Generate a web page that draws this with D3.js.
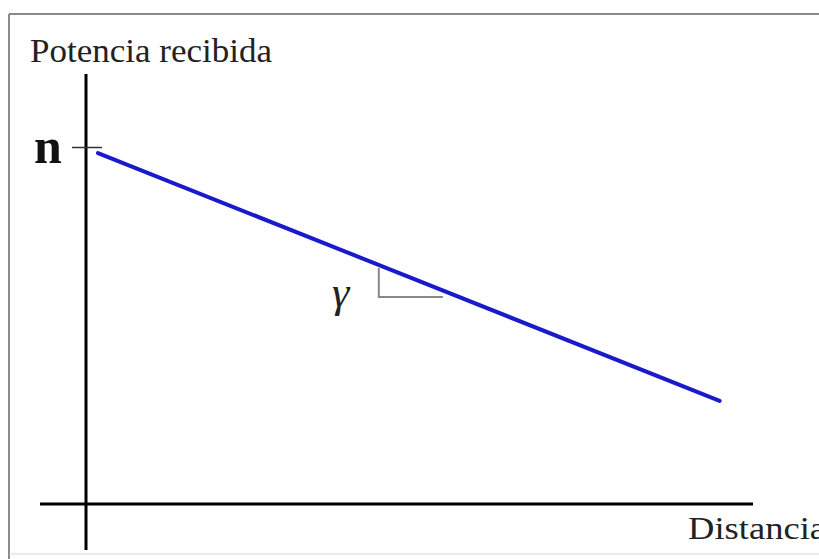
<!DOCTYPE html>
<html><head><meta charset="utf-8">
<script src="https://cdn.jsdelivr.net/npm/d3@7"></script>
<style>html,body{margin:0;padding:0;background:#fff;overflow:hidden}</style>
</head><body>
<svg id="chart" width="819" height="559"></svg>
<script>
// Data (arbitrary units: distance 0..100, power 0..100)
const lineDistance = [1.8, 95.0];
const linePower = [98.3, 28.9];
const tickPowerValues = [100];
const tickLabels = ["n"];
const slopeDistance = [43.9, 43.9, 53.5];
const slopePower = [66.1, 58.0, 58.0];
const yTitle = "Potencia recibida";
const xTitle = "Distancia";
const slopeLabel = "γ";

const svg = d3.select("#chart");
const x = d3.scaleLinear().domain([0, 100]).range([86, 753]);
const y = d3.scaleLinear().domain([0, 100]).range([504, 147]);

// frame
svg.append("line").attr("x1", 9).attr("x2", 819).attr("y1", 14).attr("y2", 14)
  .attr("stroke", "#8a8a8a").attr("stroke-width", 2);
svg.append("line").attr("x1", 9).attr("x2", 9).attr("y1", 14).attr("y2", 559)
  .attr("stroke", "#8a8a8a").attr("stroke-width", 2);
svg.append("line").attr("x1", 9).attr("x2", 819).attr("y1", 554).attr("y2", 554)
  .attr("stroke", "#d8d8d8").attr("stroke-width", 1);

// axes
svg.append("line").attr("x1", x(0)).attr("x2", x(0)).attr("y1", 74).attr("y2", 550)
  .attr("stroke", "#000").attr("stroke-width", 3);
svg.append("line").attr("x1", 40).attr("x2", x(100)).attr("y1", y(0)).attr("y2", y(0))
  .attr("stroke", "#000").attr("stroke-width", 3);

// tick on y axis
const yAxis = d3.axisLeft(y).tickValues(tickPowerValues).tickFormat(() => "").tickSize(14).tickSizeOuter(0);
const ga = svg.append("g").attr("transform", `translate(${x(0)},0)`).call(yAxis);
ga.select(".domain").remove();
ga.selectAll(".tick line").attr("x2", -14).attr("x1", 16).attr("stroke", "#333").attr("stroke-width", 1.5);

svg.selectAll("text.tl").data(tickLabels).enter().append("text")
  .attr("class", "tl")
  .attr("x", 34).attr("y", (d, i) => y(tickPowerValues[i]) + 16)
  .attr("font-family", "Liberation Serif, serif").attr("font-weight", "bold")
  .attr("font-size", 50).attr("fill", "#111").text(d => d);

// main line
const pts = lineDistance.map((d, i) => [d, linePower[i]]);
svg.append("path").datum(pts)
  .attr("d", d3.line().x(d => x(d[0])).y(d => y(d[1])))
  .attr("fill", "none").attr("stroke", "#1a1acc").attr("stroke-width", 4)
  .attr("stroke-linecap", "round");

// slope triangle
const tri = slopeDistance.map((d, i) => [d, slopePower[i]]);
svg.append("path").datum(tri)
  .attr("d", d3.line().x(d => x(d[0])).y(d => y(d[1])))
  .attr("fill", "none").attr("stroke", "#888").attr("stroke-width", 2);

svg.append("text").attr("x", 332).attr("y", 307)
  .attr("font-family", "Liberation Serif, serif").attr("font-style", "italic")
  .attr("font-size", 44).attr("fill", "#222").text(slopeLabel);

// titles
svg.append("text").attr("x", 30).attr("y", 62)
  .attr("font-family", "Liberation Serif, serif")
  .attr("font-size", 33).attr("textLength", 242).attr("lengthAdjust", "spacingAndGlyphs")
  .attr("fill", "#222").text(yTitle);
svg.append("text").attr("x", 688).attr("y", 539)
  .attr("font-family", "Liberation Serif, serif")
  .attr("font-size", 32).attr("textLength", 138).attr("lengthAdjust", "spacingAndGlyphs")
  .attr("fill", "#222").text(xTitle);
</script>
</body></html>
